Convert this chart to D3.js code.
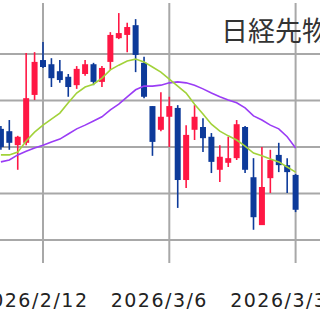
<!DOCTYPE html>
<html>
<head>
	<meta charset="utf-8">
	<script src="https://d3js.org/d3.v7.min.js"></script>
	<style type="text/css">
		body { margin: 0; background: #fff; }
		.grid { stroke: #a8a8a8; stroke-width: 2; }
		.dlabel { font-family: 'DejaVu Sans'; font-size: 19px; fill: #222; letter-spacing: 1.5px; }
		.title { font-family: 'Noto Sans CJK JP'; font-size: 27px; fill: #333; }
	</style>
</head>
<body>
	<script type="text/javascript">
		var dates = ['2026/2/4','2026/2/5','2026/2/6','2026/2/9','2026/2/10','2026/2/12','2026/2/13',
			'2026/2/16','2026/2/17','2026/2/18','2026/2/19','2026/2/20','2026/2/24','2026/2/25',
			'2026/2/26','2026/2/27','2026/3/2','2026/3/3','2026/3/4','2026/3/5','2026/3/6',
			'2026/3/9','2026/3/10','2026/3/11','2026/3/12','2026/3/13','2026/3/16','2026/3/17',
			'2026/3/18','2026/3/19','2026/3/23','2026/3/24','2026/3/25','2026/3/26','2026/3/27','2026/3/30'];

		var open  = [56390,56340,56040,56090,57120,57870,57780,57630,57510,57330,57570,57780,57400,57830,
			58340,58410,58620,57810,56880,56370,56650,56840,55290,56370,56430,56220,55510,55660,
			55760,56430,55350,54320,55330,55830,55610,55400];
		var high  = [56450,56580,56240,58020,58040,58260,57910,57870,57570,57740,57870,57810,57740,58470,
			58880,58670,58750,57940,56880,57180,57080,56900,56470,56900,56620,56300,56040,56220,
			56580,56450,55760,56000,55940,56090,55760,55420];
		var low   = [55940,55940,55510,56040,57010,57700,57290,57380,57080,57250,57530,57330,57290,57660,
			58320,58040,57610,57050,55810,56340,56000,54690,55120,56150,55890,55440,55250,55570,
			55720,55440,54220,54320,55010,55460,55010,54600];
		var close = [56000,56090,56220,57050,57830,57720,57480,57440,57290,57680,57780,57400,57700,58410,
			58450,58580,57980,57080,56110,56650,56880,55290,56260,56650,56190,55680,55790,55760,
			56490,55510,54490,55140,55720,55610,55460,54650];

		var maShort = [55830,55830,55890,56130,56320,56470,56600,56730,56950,57160,57290,57350,57480,57660,
			57760,57850,57890,57830,57720,57610,57460,57310,57160,56920,56710,56490,56340,56240,
			56150,56020,55870,55810,55740,55680,55570,55460];
		var maLong  = [55680,55720,55830,55910,55980,56040,56110,56170,56280,56390,56470,56560,56650,56800,
			56920,57080,57230,57310,57310,57330,57380,57400,57380,57330,57250,57160,57080,57010,
			56950,56840,56670,56580,56470,56390,56220,55980];

		var priceTicks = [54000, 55000, 56000, 57000, 58000];
		var dateTicks = ['2026/2/12', '2026/3/6', '2026/3/30'];
		var title = '日経先物';

		var dim = { w: 320, h: 320 };

		var svg = d3.select('body')
			.append('svg')
				.attr('width', dim.w)
				.attr('height', dim.h);

		var x = d3.scalePoint()
				.domain(dates)
				.range([0.9, 295.6]),
			y = d3.scaleLinear()
				.domain([54000, 58000])
				.range([240, 54]);

		/** grid **/
		svg.append('g')
			.selectAll('line')
				.data(priceTicks).enter()
			.append('line')
				.attr('class', 'grid')
				.attr('x1', 0)
				.attr('x2', dim.w)
				.attr('y1', function(d) { return y(d); })
				.attr('y2', function(d) { return y(d); });

		svg.append('g')
			.selectAll('line')
				.data(dateTicks).enter()
			.append('line')
				.attr('class', 'grid')
				.attr('x1', function(d) { return x(d); })
				.attr('x2', function(d) { return x(d); })
				.attr('y1', 3)
				.attr('y2', 263);

		svg.append('g')
			.selectAll('text')
				.data(dateTicks).enter()
			.append('text')
				.attr('class', 'dlabel')
				.attr('text-anchor', 'middle')
				.attr('x', function(d) { return x(d) - 10; })
				.attr('y', 307)
				.text(function(d) { return d; });

		svg.append('text')
			.attr('class', 'title')
			.attr('x', 221)
			.attr('y', 41)
			.text(title);

		/** candles **/
		var red = '#ff1744', blue = '#0d3a9a';
		var candles = svg.append('g')
			.selectAll('g')
				.data(d3.range(dates.length)).enter()
			.append('g');

		candles.append('line')
			.attr('x1', function(i) { return x(dates[i]); })
			.attr('x2', function(i) { return x(dates[i]); })
			.attr('y1', function(i) { return y(high[i]); })
			.attr('y2', function(i) { return y(low[i]); })
			.style('stroke', function(i) { return close[i] >= open[i] ? red : blue; })
			.style('stroke-width', 1.6);

		candles.append('rect')
			.attr('x', function(i) { return x(dates[i]) - 3; })
			.attr('width', 6)
			.attr('y', function(i) { return y(Math.max(open[i], close[i])); })
			.attr('height', function(i) { return Math.max(1, Math.abs(y(open[i]) - y(close[i]))); })
			.style('fill', function(i) { return close[i] >= open[i] ? red : blue; });

		/** moving averages **/
		var line = d3.line()
			.x(function(d, i) { return x(dates[i]); })
			.y(function(d) { return y(d); });

		svg.append('path')
			.datum(maLong)
			.attr('d', line)
			.style('fill', 'none')
			.style('stroke', '#9a3cf5')
			.style('stroke-width', 1.6);

		svg.append('path')
			.datum(maShort)
			.attr('d', line)
			.style('fill', 'none')
			.style('stroke', '#a2d23a')
			.style('stroke-width', 1.6);
	</script>
</body>
</html>
